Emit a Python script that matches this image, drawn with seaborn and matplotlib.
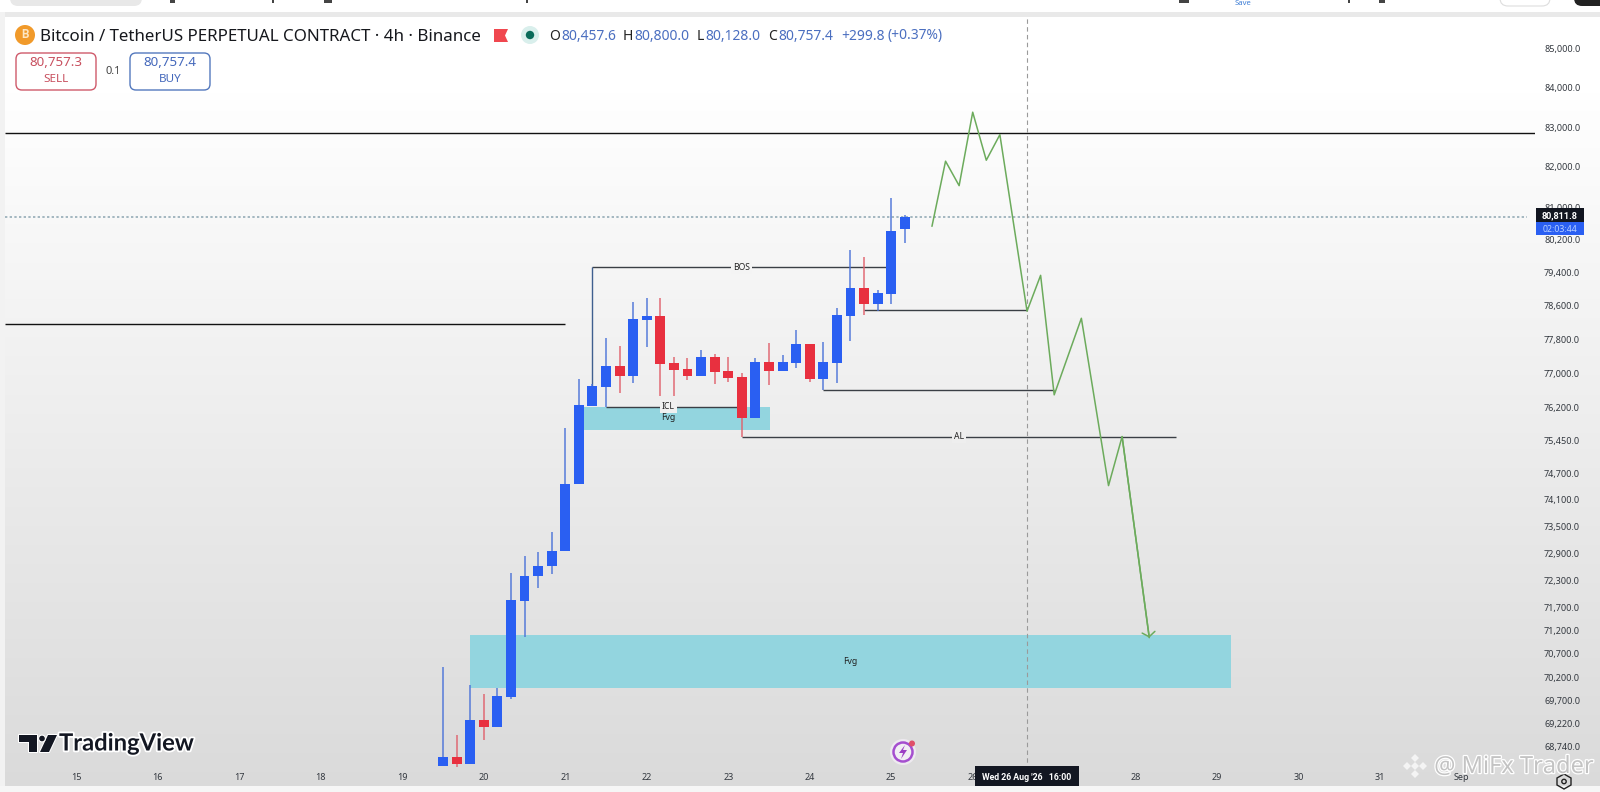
import numpy as np
import pandas as pd
import matplotlib
matplotlib.use("Agg")
import matplotlib.pyplot as plt
import matplotlib.patheffects as pe
import seaborn as sns
from matplotlib.patches import FancyBboxPatch, Circle, Polygon, Rectangle

# ---------- data ----------
opens = [68320,68505,68365,69289,69147,69782,71846,72383,72618,72948,74446,76249,76694,77178,76945,78261,78363,77241,77100,76945,77390,77061,76914,75965,77272,77061,77249,77690,76875,77249,78363,79027,78656,78896,80457.6]
highs = [70424,68973,70032,69839,69968,72464,72838,72920,73380,75735,76867,76760,77847,77656,78704,78800,78800,77397,77359,77554,77460,77397,77021,77373,77728,77437,78030,77690,77752,78546,79953,79791,78986,81220,80800]
lows = [68320,68307,68365,68867,69147,69732,71072,72125,72435,72948,74446,76249,76226,76538,76788,77633,76475,76475,76851,76945,76757,76811,75534,75965,76734,77061,77138,76811,76616,76773,77768,78387,78482,78649,80128]
closes = [68505,68365,69289,69147,69797,71868,72398,72625,72955,74453,76265,76710,77178,76945,78285,78363,77232,77084,76945,77390,77046,76898,75965,77272,77061,77272,77690,76875,77272,78387,79027,78656,78913,80427,80757.4]

y_ticks = [85000,84000,83000,82000,81000,80200,79400,78600,77800,77000,76200,75450,74700,74100,73500,72900,72300,71700,71200,70700,70200,69700,69220,68740]
day_labels = ["15","16","17","18","19","20","21","22","23","24","25","26","27","28","29","30","31","Sep"]
day_bars = [-27,-21,-15,-9,-3,3,9,15,21,27,33,39,45,51,57,63,69,75]

path_bar = [36,37,38,39,40,41,43,44,45,47,49,50,52]
path_price = [80530,82144,81534,83379,82168,82810,78477,79337,76501,78306,74415,75534,71046]

upper_level = 82840
left_level = 78161
last_price = 80757.4
bos_level = 79534
icl_level = 76226
al_level = 75534
low_a_level = 78501
low_b_level = 76621
fvg_big = (69974, 71108)
fvg_small = (75689, 76226)

# ---------- style ----------
sns.set_theme(style="white")
FONT = ["Noto Sans", "DejaVu Sans"]
plt.rcParams["font.family"] = FONT
BLUE, RED = "#2a5ff2", "#e8303f"
GREEN = "#6cab5c"
W, H = 1600, 792

fig = plt.figure(figsize=(16, 7.92), dpi=100, facecolor="white")

def px_axes(l, t, r, b, z):
    a = fig.add_axes([l/W, 1-b/H, (r-l)/W, (b-t)/H], zorder=z)
    return a

# background gradient (white to light grey)
bg = px_axes(0, 0, W, H, 0)
grad = np.concatenate([np.full(90, 1.0), np.linspace(1.0, 0.0, 700)])[:, None]
bg.imshow(grad, aspect="auto", cmap=matplotlib.colors.LinearSegmentedColormap.from_list("g", ["#dadada", "#ffffff"]),
          vmin=0, vmax=1, extent=(0, W, H, 0))
bg.add_patch(Rectangle((0, 12), W, 5, color="#e9e9e9", lw=0))
bg.add_patch(Rectangle((0, 0), W, 12, color="white", lw=0))
bg.add_patch(Rectangle((0, 12), 5, H, color="#f2f2f2", lw=0))
bg.add_patch(Rectangle((0, 786), W, 6, color="#f6f6f6", lw=0))
bg.set_xlim(0, W); bg.set_ylim(H, 0); bg.axis("off")

# main chart
ax = px_axes(5, 17, 1535, 770, 1)
ax.set_facecolor("none")
ax.set_yscale("log")
ax.set_xlim(-32.25, 80.4)
ax.set_ylim(68240, 85832)
for s in ax.spines.values():
    s.set_visible(False)

x = np.arange(len(opens))
o, h, l, c = map(np.array, (opens, highs, lows, closes))
up = c >= o
cols = np.where(up, BLUE, RED)

# zones
for lo, hi, a, b in [(*fvg_big, 2, 58), (*fvg_small, 10.3, 24.1)]:
    ax.fill_between([a, b], lo, hi, color="#93d5df", lw=0, zorder=1)

# levels
ax.hlines(upper_level, -32.25, 80.4, color="#111111", lw=1.0, zorder=2)
ax.hlines(left_level, -32.25, 9, color="#111111", lw=1.0, zorder=2)
ax.hlines(last_price, -32.25, 79.8, color="#a3b7c0", lw=1.4, ls=(0, (1.2, 1.2)), zorder=2)
ax.axvline(43, color="#9a9a9a", lw=0.8, ls=(0, (4, 3)), zorder=2)

line_kw = dict(color="#3a3f45", lw=1.0, zorder=2)
ax.hlines(bos_level, 11, 33, **line_kw)
ax.vlines(11, closes[11], bos_level, color="#3f5f8f", lw=1.0, zorder=2)
ax.hlines(icl_level, 12, 22, **line_kw)
ax.hlines(al_level, 22, 54, **line_kw)
ax.hlines(low_a_level, 31, 43, **line_kw)
ax.hlines(low_b_level, 28, 45, **line_kw)

txt_kw = dict(ha="center", va="center", fontsize=6.2, color="#222222", zorder=4)
ax.text(22, bos_level, "BOS", bbox=dict(fc="#f4f4f4", ec="none", pad=1.6), **txt_kw)
ax.text(16.6, icl_level, "ICL", bbox=dict(fc="#f0f0f0", ec="none", pad=1.6), **txt_kw)
ax.text(16.6, 75985, "Fvg", **txt_kw)
ax.text(38, al_level, "AL", bbox=dict(fc="#eeeeee", ec="none", pad=1.6), **txt_kw)
ax.text(30, 70540, "Fvg", **txt_kw)

# candles
ax.vlines(x[up], l[up], h[up], color="#4a72d8", lw=1.2, alpha=0.85, zorder=3)
ax.vlines(x[~up], l[~up], h[~up], color="#e0606b", lw=1.2, alpha=0.85, zorder=3)
ax.bar(x, np.abs(c-o), bottom=np.minimum(o, c), width=0.73, color=cols, lw=0, zorder=3.5)

# projected path
path = pd.DataFrame({"bar": path_bar, "price": path_price})
sns.lineplot(data=path, x="bar", y="price", sort=False, estimator=None, color=GREEN, lw=1.1, ax=ax, zorder=4)
ax.annotate("", xy=(path_bar[-1], path_price[-1]), xytext=(path_bar[-2], path_price[-2]),
            arrowprops=dict(arrowstyle="->,head_length=0.3,head_width=0.42", color=GREEN, lw=1.1,
                            mutation_scale=11, shrinkA=0, shrinkB=0), zorder=4)

# axes ticks
ax.yaxis.tick_right()
ax.yaxis.set_major_locator(matplotlib.ticker.FixedLocator(y_ticks))
ax.yaxis.set_major_formatter(matplotlib.ticker.FuncFormatter(lambda v, p: f"{v:,.1f}"))
ax.yaxis.set_minor_locator(matplotlib.ticker.NullLocator())
ax.set_xticks(day_bars, day_labels)
ax.tick_params(axis="y", length=0, pad=6.5, labelsize=6.5, labelcolor="#33383f")
ax.tick_params(axis="x", length=0, pad=2.5, labelsize=6.5, labelcolor="#33383f")
ax.set_xlabel(""); ax.set_ylabel("")
ax.grid(False)

# overlay chrome in pixel coordinates
ov = px_axes(0, 0, W, H, 2)
ov.set_xlim(0, W); ov.set_ylim(H, 0); ov.axis("off"); ov.patch.set_alpha(0)

# header
ov.add_patch(Circle((25, 35), 10, color="#f19a2a", lw=0))
ov.text(25, 35, "B", color="#fde7c4", fontsize=8.5, ha="center", va="center", fontweight="bold", family="Roboto")
ov.text(40, 37, "Bitcoin / TetherUS PERPETUAL CONTRACT · 4h · Binance", fontsize=12.2, color="#16181d", va="center", ha="left")
ov.add_patch(Polygon([(494, 29), (508, 29), (505, 35.5), (508, 42), (494, 42)], color="#f0474f", lw=0))
ov.add_patch(Circle((530, 35), 9, color="#d9efec", lw=0))
ov.add_patch(Circle((530, 35), 4.2, color="#0a6b5a", lw=0))

hdr = [("O", "#222222", 549), ("80,457.6", "#4b6fc0", 561), ("H", "#222222", 623), ("80,800.0", "#4b6fc0", 634),
       ("L", "#222222", 697), ("80,128.0", "#4b6fc0", 705), ("C", "#222222", 768), ("80,757.4", "#4b6fc0", 778),
       ("+299.8", "#4b6fc0", 841), ("(+0.37%)", "#4b6fc0", 888)]
for s, col, xp in hdr:
    ov.text(xp, 36, s, fontsize=10, color=col, va="center", ha="left")

for x0, x1, col, val, lab in [(16, 96, "#cf5a6b", "80,757.3", "SELL"), (130, 210, "#5378bd", "80,757.4", "BUY")]:
    ov.add_patch(FancyBboxPatch((x0, 53), x1-x0, 37, boxstyle="round,pad=0,rounding_size=6", fc="white", ec=col, lw=1))
    tcol = "#c8505f" if lab == "SELL" else "#4468bb"
    ov.text((x0+x1)/2, 63, val, fontsize=9.6, color=tcol, ha="center", va="center")
    ov.text((x0+x1)/2, 79, lab, fontsize=8.4, color=tcol, ha="center", va="center")
ov.text(113, 71, "0.1", fontsize=8, color="#444444", ha="center", va="center")

# top clipped toolbar bits
ov.text(1243, 3.6, "Save", fontsize=5.5, color="#3f7fd6", ha="center", va="center")
ov.add_patch(FancyBboxPatch((10, -14), 132, 20, boxstyle="round,pad=0,rounding_size=8", fc="#e8e8e8", ec="none"))
for xp, wd in [(172, 5), (273, 1.5), (328, 8), (527, 1.5), (1184, 10), (1349, 1.5), (1382, 6)]:
    ov.add_patch(Rectangle((xp-wd/2, 0), wd, 3, color="#444444", lw=0))
ov.add_patch(FancyBboxPatch((1500, -14), 50, 20, boxstyle="round,pad=0,rounding_size=8", fc="white", ec="#dddddd", lw=0.8))
ov.add_patch(FancyBboxPatch((1574, -14), 40, 20, boxstyle="round,pad=0,rounding_size=8", fc="#222222", ec="none"))

# price label
ov.add_patch(Rectangle((1536, 208), 48, 14, color="#11151f", lw=0))
ov.text(1560, 215.5, "80,811.8", fontsize=6.6, color="white", ha="center", va="center", fontweight="bold", family="Roboto")
ov.add_patch(Rectangle((1536, 222), 48, 13, color="#2a5ff2", lw=0))
ov.text(1560, 229, "02:03:44", fontsize=6.3, color="#b9d0ff", ha="center", va="center")

# crosshair label
ov.add_patch(Rectangle((975, 766), 104, 20, color="#131722", lw=0))
ov.text(1027, 777, "Wed 26 Aug '26   16:00", fontsize=6.3, color="white", ha="center", va="center", fontweight="bold", family="Roboto")

# TradingView logo
halo = [pe.withStroke(linewidth=2.6, foreground="white")]
for poly in [[(19, 735), (37, 735), (37, 752), (29, 752), (29, 742), (19, 742)],
             [(48, 735), (57, 735), (49, 752), (40, 752)]]:
    ov.add_patch(Polygon(poly, fc="#131722", ec="white", lw=1.5, joinstyle="round"))
    ov.add_patch(Polygon(poly, fc="#131722", lw=0))
ov.add_patch(Circle((42, 738.5), 3.4, fc="#131722", ec="white", lw=0.8))
ov.text(59, 743, "TradingView", fontsize=17.1, color="#131722", fontweight="bold", va="center", ha="left",
        family="Lato", path_effects=halo)

# event icon
ov.add_patch(Circle((903, 752), 13, color="#eeeaf0", lw=0))
ov.add_patch(Circle((903, 752), 9.5, fc="#f2eff4", ec="#a54fcf", lw=1.8))
ov.add_patch(Polygon([(905, 745), (899, 753), (903, 753), (901, 759), (907, 750), (903, 750)], color="#9c3fc4", lw=0))
ov.add_patch(Circle((912, 743.5), 3, color="#e0506a", lw=0))

# watermark
wm = [pe.withStroke(linewidth=1.8, foreground="white")]
ov.text(1514, 767, "@ MiFx Trader", fontsize=17, color="#c3c3c3", ha="center", va="center", path_effects=wm)
for dx, dy in [(0, -8), (-8, 0), (8, 0), (0, 8), (0, 0)]:
    ov.add_patch(Polygon([(1415+dx, 766+dy-4), (1415+dx+4, 766+dy), (1415+dx, 766+dy+4), (1415+dx-4, 766+dy)],
                         color="#f4f4f4", lw=0))
# settings glyph
ov.add_patch(Polygon([(1557, 778), (1564, 774), (1571, 778), (1571, 785), (1564, 789), (1557, 785)], fc="none", ec="#222222", lw=1))
ov.add_patch(Circle((1564, 781.5), 2.2, fc="none", ec="#222222", lw=1))

fig.savefig("out.png", dpi=100)
